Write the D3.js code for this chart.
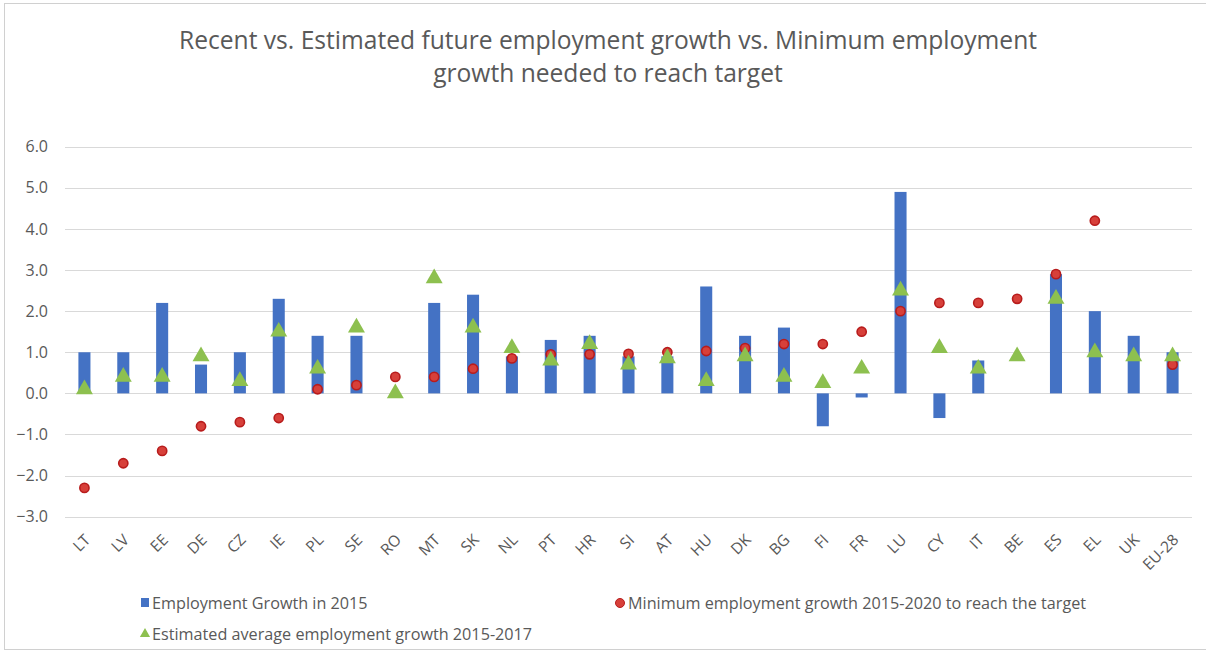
<!DOCTYPE html>
<html>
<head>
<meta charset="utf-8">
<script src="https://cdn.jsdelivr.net/npm/d3@7"></script>
<style>
  body { margin: 0; background: #fff; }
  svg { display: block; font-family: "Open Sans", sans-serif; }
</style>
</head>
<body>
<svg id="chart" width="1206" height="655"></svg>
<script>
"use strict";

// values
const countries = ["LT","LV","EE","DE","CZ","IE","PL","SE","RO","MT","SK","NL","PT","HR","SI","AT","HU","DK","BG","FI","FR","LU","CY","IT","BE","ES","EL","UK","EU-28"];
const growth2015 = [1.0,1.0,2.2,0.7,1.0,2.3,1.4,1.4,null,2.2,2.4,0.9,1.3,1.4,0.9,0.9,2.6,1.4,1.6,-0.8,-0.1,4.9,-0.6,0.8,null,2.9,2.0,1.4,1.0];
const minNeeded = [-2.3,-1.7,-1.4,-0.8,-0.7,-0.6,0.1,0.2,0.4,0.4,0.6,0.85,0.95,0.95,0.96,1.0,1.03,1.1,1.2,1.2,1.5,2.0,2.2,2.2,2.3,2.9,4.2,null,0.7];
const estimated = [0.1,0.4,0.4,0.9,0.3,1.5,0.6,1.6,0.0,2.8,1.6,1.1,0.8,1.2,0.7,0.85,0.3,0.9,0.4,0.25,0.6,2.5,1.1,0.6,0.9,2.3,1.0,0.9,0.9];
const yTicks = [-3,-2,-1,0,1,2,3,4,5,6];

const titleLines = ["Recent vs. Estimated future employment growth vs. Minimum employment", "growth needed to reach target"];
const legendNames = ["Employment Growth in 2015", "Minimum employment growth 2015-2020 to reach the target", "Estimated average employment growth 2015-2017"];

const blue = "#4472c4", red = "#d7403a", redEdge = "#b81c1c", green = "#8dc04f";
const textCol = "#595959", gridCol = "#d9d9d9";

const svg = d3.select("#chart");

// frame
svg.append("rect")
    .attr("x", 4.5).attr("y", 3.5)
    .attr("width", 1210).attr("height", 646)
    .attr("fill", "none")
    .attr("stroke", "#d0d0d0");

const x = d3.scaleBand().domain(countries).range([65, 1192]).paddingInner(0.69).paddingOuter(0.345);
const y = d3.scaleLinear().domain([-3, 6]).range([516.7, 146.7]);

// title
svg.append("g").selectAll("text")
  .data(titleLines)
  .join("text")
    .attr("x", 608)
    .attr("y", (d, i) => 49 + i * 33)
    .attr("text-anchor", "middle")
    .attr("fill", textCol)
    .style("font-size", "24.6px")
    .text(d => d);

// grid
svg.append("g").selectAll("line")
  .data(yTicks)
  .join("line")
    .attr("x1", 65).attr("x2", 1192)
    .attr("y1", d => Math.round(y(d)) + 0.5)
    .attr("y2", d => Math.round(y(d)) + 0.5)
    .attr("stroke", gridCol);

// y axis labels
const yAxis = d3.axisLeft(y).tickValues(yTicks).tickFormat(d3.format(".1f")).tickSize(0).tickPadding(0);
const gy = svg.append("g").attr("transform", "translate(48,0)").call(yAxis);
gy.select(".domain").remove();
gy.selectAll("text").attr("fill", textCol).style("font-size", "16px").style("font-family", "Open Sans");

// x axis labels (rotated)
const xAxis = d3.axisBottom(x).tickSize(0).tickPadding(0);
const gx = svg.append("g").attr("transform", "translate(0,537)").call(xAxis);
gx.select(".domain").remove();
gx.selectAll("text")
    .attr("fill", textCol)
    .style("font-size", "15.5px")
    .style("font-family", "Open Sans")
    .attr("text-anchor", "end")
    .attr("y", 0)
    .attr("dy", "0.35em")
    .attr("transform", "translate(3,0) rotate(-45)");

// bars
const bw = x.bandwidth();
svg.append("g").selectAll("rect")
  .data(countries.map((c, i) => ({c, v: growth2015[i]})).filter(d => d.v !== null))
  .join("rect")
    .attr("x", d => x(d.c))
    .attr("y", d => y(Math.max(0, d.v)))
    .attr("width", bw)
    .attr("height", d => Math.abs(y(d.v) - y(0)))
    .attr("fill", blue);

// red dots
svg.append("g").selectAll("circle")
  .data(countries.map((c, i) => ({c, v: minNeeded[i]})).filter(d => d.v !== null))
  .join("circle")
    .attr("cx", d => x(d.c) + bw / 2)
    .attr("cy", d => y(d.v))
    .attr("r", 4.6)
    .attr("fill", red)
    .attr("stroke", redEdge)
    .attr("stroke-width", 1.6);

// green triangles
const tri = d3.symbol().type(d3.symbolTriangle).size(125);
svg.append("g").selectAll("path")
  .data(countries.map((c, i) => ({c, v: estimated[i]})).filter(d => d.v !== null))
  .join("path")
    .attr("d", tri)
    .attr("transform", d => `translate(${x(d.c) + bw / 2},${y(d.v)})`)
    .attr("fill", green);

// legend
const lg = svg.append("g").style("font-size", "16.2px").attr("fill", textCol);
lg.append("rect").attr("x", 141).attr("y", 598).attr("width", 8).attr("height", 9).attr("fill", blue);
lg.append("text").attr("x", 152).attr("y", 609).text(legendNames[0]);
lg.append("circle").attr("cx", 620).attr("cy", 603).attr("r", 4.5).attr("fill", red).attr("stroke", redEdge);
lg.append("text").attr("x", 628).attr("y", 609).text(legendNames[1]);
lg.append("path").attr("d", d3.symbol().type(d3.symbolTriangle).size(45)).attr("transform", "translate(145,634)").attr("fill", green);
lg.append("text").attr("x", 152).attr("y", 640).text(legendNames[2]);
</script>
</body>
</html>
